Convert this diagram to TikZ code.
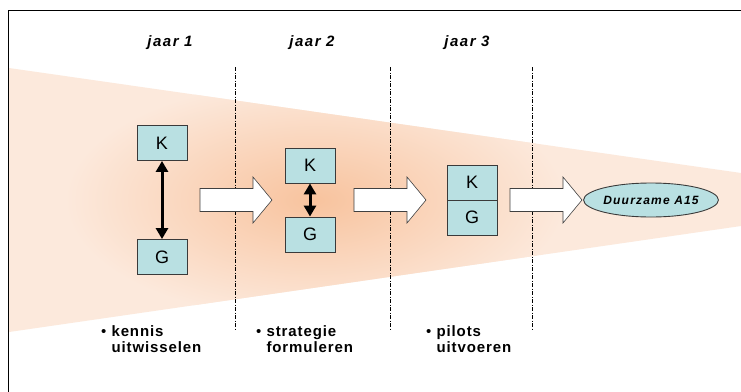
\documentclass[tikz,border=0pt]{standalone}
\usepackage{fontspec}
\setmainfont{Liberation Sans}
\newfontfamily\spacedfont[LetterSpace=6]{Liberation Sans}
\newfontfamily\widefont[LetterSpace=10]{Liberation Sans}
\usetikzlibrary{arrows.meta,shapes.geometric}

\definecolor{peach}{HTML}{FCE9DC}
\definecolor{glow}{HTML}{F8C39E}
\definecolor{boxfill}{HTML}{B9E0E2}
\definecolor{boxline}{HTML}{3A3A3A}

\begin{document}
\begin{tikzpicture}[x=1pt,y=-1pt,
  kg/.style={draw=boxline, fill=boxfill, line width=0.9pt,
    minimum width=50pt, minimum height=35pt, inner sep=0pt,
    font=\fontsize{18}{18}\selectfont},
  yearlabel/.style={font=\widefont\bfseries\itshape\fontsize{15}{15}\selectfont},
  note/.style={anchor=north west, align=left, inner sep=0pt,
    font=\spacedfont\bfseries\fontsize{15}{16}\selectfont},
  divider/.style={line width=0.6pt, dash pattern=on 4pt off 1.5pt on 1pt off 1.5pt},
  twoway/.style={line width=3pt,
    {Triangle[width=12pt,length=11pt]}-{Triangle[width=12pt,length=11pt]}},
  blockarr/.pic={\draw[fill=white, draw=black!75, line width=0.6pt]
    (0,-11.5) -- (53,-11.5) -- (53,-23) -- (72,0) -- (53,23) -- (53,11.5)
    -- (0,11.5) -- cycle;},
]
\useasboundingbox (0,0) rectangle (741,391);
\fill[white] (0,0) rectangle (741,391);

% widening band with a warm glow in the middle
\begin{scope}
  \clip (9,68) -- (741,173) -- (741,226) -- (9,332) -- cycle;
  \fill[peach] (0,0) rectangle (741,391);
  \shade[inner color=glow, outer color=peach] (315,200) ellipse (250 and 120);
\end{scope}

% outer frame
\draw[line width=1pt] (8,400) -- (8,10) -- (760,10);

% year dividers
\draw[divider] (235,67) -- (235,330);
\draw[divider] (390,67) -- (390,330);
\draw[divider] (532,67) -- (532,330);

% year headings
\node[yearlabel] (j1) at (170,43) {jaar\ 1};
\node[yearlabel] (j2) at (312,43) {jaar\ 2};
\node[yearlabel] (j3) at (467,43) {jaar\ 3};

% year 1
\node[kg] (k1) at (162,143) {K};
\node[kg] (g1) at (162,257) {G};
\draw[twoway] (k1) -- (g1);

% year 2
\node[kg] (k2) at (310,165.5) {K};
\node[kg] (g2) at (310,234.5) {G};
\draw[twoway] (k2) -- (g2);

% year 3
\node[kg] (k3) at (472,182.5) {K};
\node[kg] (g3) at (472,217.5) {G};

% goal
\node[ellipse, draw=boxline, fill=boxfill, line width=0.9pt,
  minimum width=127pt, minimum height=34pt, inner sep=0pt,
  font=\widefont\bfseries\itshape\fontsize{12}{12}\selectfont]
  (goal) at (651,200) {Duurzame\ A15};

% progress arrows
\pic at (200,200) {blockarr};
\pic at (354,200) {blockarr};
\pic at (510,200) {blockarr};

% activities
\node[note] (n1) at (101,325) {{\mdseries\textbullet}\ kennis\\\hphantom{\textbullet\ }uitwisselen};
\node[note] (n2) at (256,325) {{\mdseries\textbullet}\ strategie\\\hphantom{\textbullet\ }formuleren};
\node[note] (n3) at (426,325) {{\mdseries\textbullet}\ pilots\\\hphantom{\textbullet\ }uitvoeren};
\end{tikzpicture}
\end{document}
